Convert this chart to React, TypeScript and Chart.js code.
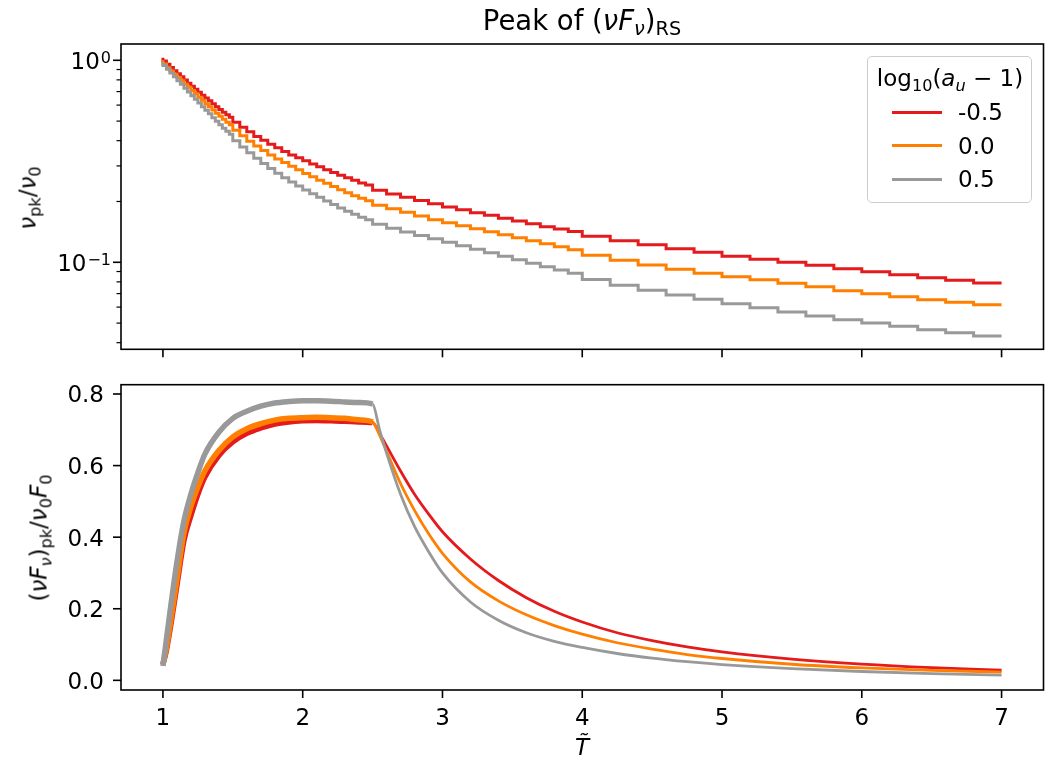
import React, { useEffect, useRef } from 'react';
import { Chart, registerables } from 'chart.js';
Chart.register(...registerables);

// ---------- data ----------
const SERIES_LABELS = ['-0.5', '0.0', '0.5'];
const COLORS = ['#e41a1c', '#ff7f00', '#999999'];

// top panel: nu_pk / nu_0 (staircase)
const TOP_T = [1.0, 1.025, 1.05, 1.075, 1.1, 1.125, 1.15, 1.175, 1.2, 1.225, 1.25, 1.275, 1.3, 1.325, 1.35, 1.375, 1.4, 1.425, 1.45, 1.475, 1.5,
  1.55, 1.6, 1.65, 1.7, 1.75, 1.8, 1.85, 1.9, 1.95, 2.0, 2.05, 2.1, 2.15, 2.2, 2.25, 2.3, 2.35, 2.4, 2.45, 2.5,
  2.6, 2.7, 2.8, 2.9, 3.0, 3.1, 3.2, 3.3, 3.4, 3.5, 3.6, 3.7, 3.8, 3.9, 4.0,
  4.2, 4.4, 4.6, 4.8, 5.0, 5.2, 5.4, 5.6, 5.8, 6.0, 6.2, 6.4, 6.6, 6.8, 7.0];
const TOP_RED = [1.029, 0.991, 0.955, 0.920, 0.887, 0.857, 0.829, 0.798, 0.769, 0.743, 0.718, 0.694, 0.671, 0.650, 0.630, 0.609, 0.589, 0.570, 0.553, 0.537, 0.522,
  0.493, 0.466, 0.443, 0.420, 0.402, 0.384, 0.369, 0.354, 0.340, 0.329, 0.318, 0.307, 0.297, 0.287, 0.278, 0.270, 0.262, 0.255, 0.247, 0.241,
  0.227, 0.218, 0.210, 0.202, 0.195, 0.188, 0.182, 0.176, 0.171, 0.165, 0.160, 0.155, 0.150, 0.146, 0.142,
  0.1345, 0.1278, 0.1221, 0.1166, 0.1121, 0.1071, 0.1035, 0.100, 0.0966, 0.0929, 0.0897, 0.0867, 0.0838, 0.0814, 0.0790];
const TOP_ORANGE = [1.000, 0.958, 0.918, 0.884, 0.852, 0.821, 0.792, 0.762, 0.735, 0.708, 0.683, 0.657, 0.634, 0.610, 0.589, 0.567, 0.547, 0.528, 0.510, 0.494, 0.479,
  0.450, 0.423, 0.397, 0.376, 0.358, 0.340, 0.325, 0.3115, 0.2988, 0.287, 0.2754, 0.265, 0.255, 0.246, 0.237, 0.2285, 0.2208, 0.2134, 0.2074, 0.2016,
  0.1915, 0.1840, 0.1768, 0.1695, 0.1623, 0.1568, 0.1516, 0.1465, 0.1416, 0.1368, 0.1322, 0.1278, 0.1235, 0.1193, 0.1153,
  0.1083, 0.1023, 0.0969, 0.0923, 0.0882, 0.0848, 0.0819, 0.0787, 0.0756, 0.0723, 0.0698, 0.0675, 0.0652, 0.0634, 0.0617];
const TOP_GRAY = [0.983, 0.941, 0.902, 0.864, 0.829, 0.793, 0.761, 0.728, 0.696, 0.668, 0.641, 0.614, 0.589, 0.566, 0.5435, 0.520, 0.499, 0.4795, 0.4605, 0.445, 0.430,
  0.3995, 0.372, 0.3484, 0.327, 0.3084, 0.2914, 0.2758, 0.2620, 0.2497, 0.2385, 0.2282, 0.2186, 0.2096, 0.2011, 0.1932, 0.1858, 0.1790, 0.1728, 0.1672, 0.1623,
  0.1542, 0.1473, 0.1411, 0.1357, 0.1307, 0.1256, 0.1207, 0.1160, 0.1114, 0.1071, 0.1029, 0.0989, 0.0950, 0.0915, 0.0882,
  0.0821, 0.0769, 0.0727, 0.0689, 0.0656, 0.0624, 0.0595, 0.0568, 0.0542, 0.0520, 0.0501, 0.0482, 0.0464, 0.0448, 0.0432];

// bottom panel: (nu F_nu)_pk / nu_0 F_0
const BOT_T = [1.0, 1.02, 1.05, 1.1, 1.15, 1.2, 1.25, 1.3, 1.4, 1.5, 1.6, 1.7, 1.8, 1.9, 2.0, 2.1, 2.2, 2.3, 2.4, 2.5,
  2.55, 2.6, 2.7, 2.8, 2.9, 3.0, 3.2, 3.4, 3.6, 3.8, 4.0, 4.25, 4.5, 4.75, 5.0, 5.5, 6.0, 6.5, 7.0];
const BOT_RED = [0.045, 0.075, 0.14, 0.265, 0.39, 0.46, 0.52, 0.568, 0.628, 0.666, 0.69, 0.705, 0.716, 0.722, 0.725, 0.726, 0.725, 0.724, 0.722, 0.72,
  0.69, 0.655, 0.585, 0.52, 0.465, 0.415, 0.339, 0.279, 0.231, 0.193, 0.163, 0.133, 0.111, 0.0933, 0.0794, 0.0592, 0.0452, 0.0353, 0.0282];
const BOT_ORANGE = [0.045, 0.08, 0.15, 0.28, 0.41, 0.485, 0.54, 0.585, 0.642, 0.68, 0.703, 0.717, 0.727, 0.732, 0.734, 0.735, 0.734, 0.732, 0.728, 0.722,
  0.685, 0.64, 0.55, 0.475, 0.41, 0.355, 0.275, 0.222, 0.183, 0.153, 0.129, 0.105, 0.087, 0.072, 0.061, 0.045, 0.0348, 0.028, 0.0232];
const BOT_GRAY = [0.04, 0.10, 0.19, 0.33, 0.445, 0.52, 0.58, 0.632, 0.693, 0.732, 0.752, 0.766, 0.775, 0.779, 0.781, 0.781, 0.780, 0.778, 0.776, 0.772,
  0.70, 0.635, 0.52, 0.43, 0.36, 0.30, 0.219, 0.168, 0.133, 0.109, 0.092, 0.075, 0.062, 0.052, 0.044, 0.0326, 0.0247, 0.019, 0.0147];

// ticks
const X_TICKS = [1, 2, 3, 4, 5, 6, 7];
const X_TICK_LABELS = ['1', '2', '3', '4', '5', '6', '7'];
const TOP_MAJOR_TICKS = [1, 0.1];
const TOP_MAJOR_EXP = ['0', '\u22121'];
const TOP_MINOR_TICKS = [0.04, 0.05, 0.06, 0.07, 0.08, 0.09, 0.2, 0.3, 0.4, 0.5, 0.6, 0.7, 0.8, 0.9];
const BOT_Y_TICKS = [0, 0.2, 0.4, 0.6, 0.8];
const BOT_Y_TICK_LABELS = ['0.0', '0.2', '0.4', '0.6', '0.8'];

// ---------- layout ----------
const FONT = '"DejaVu Sans", sans-serif';
const TICK_FS = 23;
const SUP_FS = 16;
const AX_LEFT = 121;
const AX_RIGHT = 1043.5;
const TOP_CANVAS_H = 370;
const BOT_CANVAS_TOP = 370;
const BOT_CANVAS_H = 390;

const axesPlugin = {
  id: 'axesDraw',
  afterDatasetsDraw(chart: any, _args: any, o: any) {
    const { ctx, chartArea: a, scales } = chart;
    const xs = scales.x, ys = scales.y;
    ctx.save();
    ctx.strokeStyle = '#000';
    ctx.fillStyle = '#000';
    ctx.lineWidth = 1.6;
    const seg = (x1: number, y1: number, x2: number, y2: number) => {
      ctx.beginPath(); ctx.moveTo(x1, y1); ctx.lineTo(x2, y2); ctx.stroke();
    };
    for (const v of X_TICKS) {
      const px = xs.getPixelForValue(v);
      seg(px, a.bottom, px, a.bottom + 8);
    }
    if (o.xLabels) {
      ctx.font = `${TICK_FS}px ${FONT}`;
      ctx.textAlign = 'center';
      ctx.textBaseline = 'alphabetic';
      X_TICKS.forEach((v, i) => {
        ctx.fillText(X_TICK_LABELS[i], xs.getPixelForValue(v), a.bottom + 34.5);
      });
    }
    if (o.log) {
      for (const v of TOP_MINOR_TICKS) {
        const py = ys.getPixelForValue(v);
        ctx.lineWidth = 1.2;
        seg(a.left - 4.5, py, a.left, py);
      }
      ctx.lineWidth = 1.6;
      TOP_MAJOR_TICKS.forEach((v, i) => {
        const py = ys.getPixelForValue(v);
        seg(a.left - 8, py, a.left, py);
        const right = a.left - 10;
        ctx.textAlign = 'right';
        ctx.textBaseline = 'alphabetic';
        ctx.font = `${SUP_FS}px ${FONT}`;
        const supW = ctx.measureText(TOP_MAJOR_EXP[i]).width;
        ctx.fillText(TOP_MAJOR_EXP[i], right, py + 2.5);
        ctx.font = `${TICK_FS}px ${FONT}`;
        ctx.fillText('10', right - supW - 1, py + 8.4);
      });
    } else {
      ctx.font = `${TICK_FS}px ${FONT}`;
      ctx.textAlign = 'right';
      ctx.textBaseline = 'alphabetic';
      BOT_Y_TICKS.forEach((v, i) => {
        const py = ys.getPixelForValue(v);
        seg(a.left - 8, py, a.left, py);
        ctx.fillText(BOT_Y_TICK_LABELS[i], a.left - 17, py + 8.4);
      });
    }
    ctx.lineWidth = 1.6;
    ctx.strokeRect(a.left, a.top, a.right - a.left, a.bottom - a.top);
    ctx.restore();
  },
};

function pts(xs: number[], ys: number[]) {
  return xs.map((x, i) => ({ x, y: ys[i] }));
}

function topConfig(): any {
  const series = [TOP_RED, TOP_ORANGE, TOP_GRAY];
  return {
    type: 'line',
    data: {
      datasets: series.map((s, i) => ({
        label: SERIES_LABELS[i],
        data: pts(TOP_T, s),
        borderColor: COLORS[i],
        backgroundColor: COLORS[i],
        borderWidth: 3,
        pointRadius: 0,
        stepped: 'after',
        fill: false,
        order: 3 - i,
      })),
    },
    options: {
      responsive: false,
      animation: false,
      events: [],
      layout: { padding: { left: AX_LEFT, right: 1056 - AX_RIGHT, top: 44, bottom: TOP_CANVAS_H - 349.3 } },
      scales: {
        x: { type: 'linear', display: false, min: 0.7, max: 7.3 },
        y: { type: 'logarithmic', display: false, min: 0.03709, max: 1.204 },
      },
      plugins: { legend: { display: false }, tooltip: { enabled: false }, axesDraw: { log: true, xLabels: false } },
    },
    plugins: [axesPlugin],
  };
}

function botConfig(): any {
  const series = [BOT_RED, BOT_ORANGE, BOT_GRAY];
  return {
    type: 'line',
    data: {
      datasets: series.map((s, i) => ({
        label: SERIES_LABELS[i],
        data: pts(BOT_T, s),
        borderColor: COLORS[i],
        backgroundColor: COLORS[i],
        borderWidth: 2.8,
        pointRadius: 0,
        cubicInterpolationMode: 'monotone',
        fill: false,
        order: 3 - i,
        segment: { borderWidth: (ctx: any) => (ctx.p0.parsed.x < 2.5 ? 5.5 : 2.8) },
      })),
    },
    options: {
      responsive: false,
      animation: false,
      events: [],
      layout: { padding: { left: AX_LEFT, right: 1056 - AX_RIGHT, top: 384.7 - BOT_CANVAS_TOP, bottom: BOT_CANVAS_TOP + BOT_CANVAS_H - 690 } },
      scales: {
        x: { type: 'linear', display: false, min: 0.7, max: 7.3 },
        y: { type: 'linear', display: false, min: -0.027, max: 0.826 },
      },
      plugins: { legend: { display: false }, tooltip: { enabled: false }, axesDraw: { log: false, xLabels: true } },
    },
    plugins: [axesPlugin],
  };
}

const Sub = ({ children }: any) => (
  <span style={{ fontSize: '70%', position: 'relative', top: '0.28em' }}>{children}</span>
);
const It = ({ children }: any) => <span style={{ fontStyle: 'italic' }}>{children}</span>;

const abs = (x: number, y: number, extra: any = {}): any => ({
  position: 'absolute', left: x, top: y, transform: 'translate(-50%,-50%)', whiteSpace: 'nowrap', lineHeight: 1, ...extra,
});

export default function App() {
  const topRef = useRef<HTMLCanvasElement>(null);
  const botRef = useRef<HTMLCanvasElement>(null);
  useEffect(() => {
    const c1 = new Chart(topRef.current as HTMLCanvasElement, topConfig());
    const c2 = new Chart(botRef.current as HTMLCanvasElement, botConfig());
    return () => { c1.destroy(); c2.destroy(); };
  }, []);

  return (
    <div style={{ position: 'fixed', left: 0, top: 0, width: 1056, height: 760, background: '#fff', fontFamily: FONT, color: '#000', overflow: 'hidden' }}>
      <canvas ref={topRef} width={1056} height={TOP_CANVAS_H} style={{ position: 'absolute', left: 0, top: 0, width: 1056, height: TOP_CANVAS_H }} />
      <canvas ref={botRef} width={1056} height={BOT_CANVAS_H} style={{ position: 'absolute', left: 0, top: BOT_CANVAS_TOP, width: 1056, height: BOT_CANVAS_H }} />

      {/* title */}
      <div style={abs(582, 20.5, { fontSize: 27.5 })}>
        Peak of (<It>ν</It><It>F</It><Sub><It>ν</It></Sub>)<Sub>RS</Sub>
      </div>

      {/* y labels */}
      <div style={abs(28, 198, { fontSize: TICK_FS, transform: 'translate(-50%,-50%) rotate(-90deg)' })}>
        <It>ν</It><Sub>pk</Sub>/<It>ν</It><Sub>0</Sub>
      </div>
      <div style={abs(39, 538, { fontSize: TICK_FS, transform: 'translate(-50%,-50%) rotate(-90deg)' })}>
        (<It>ν</It><It>F</It><Sub><It>ν</It></Sub>)<Sub>pk</Sub>/<It>ν</It><Sub>0</Sub><It>F</It><Sub>0</Sub>
      </div>

      {/* x label */}
      <div style={abs(582, 747, { fontSize: TICK_FS })}>
        <It>T&#771;</It>
      </div>

      {/* legend */}
      <div style={{ position: 'absolute', left: 867, top: 56, width: 165, height: 147, border: '1.3px solid #cccccc', borderRadius: 5, background: 'rgba(255,255,255,0.8)', boxSizing: 'border-box' }} />
      <div style={abs(950, 78, { fontSize: TICK_FS })}>
        log<Sub>10</Sub>(<It>a</It><Sub><It>u</It></Sub> − 1)
      </div>
      {SERIES_LABELS.map((lab, i) => {
        const y = [112, 145.5, 179][i];
        return (
          <React.Fragment key={lab}>
            <div style={{ position: 'absolute', left: 892, top: y - 1.5, width: 50, height: 3, background: COLORS[i] }} />
            <div style={{ position: 'absolute', left: 958, top: y, transform: 'translateY(-50%)', fontSize: TICK_FS, lineHeight: 1, whiteSpace: 'nowrap' }}>{lab}</div>
          </React.Fragment>
        );
      })}
    </div>
  );
}
